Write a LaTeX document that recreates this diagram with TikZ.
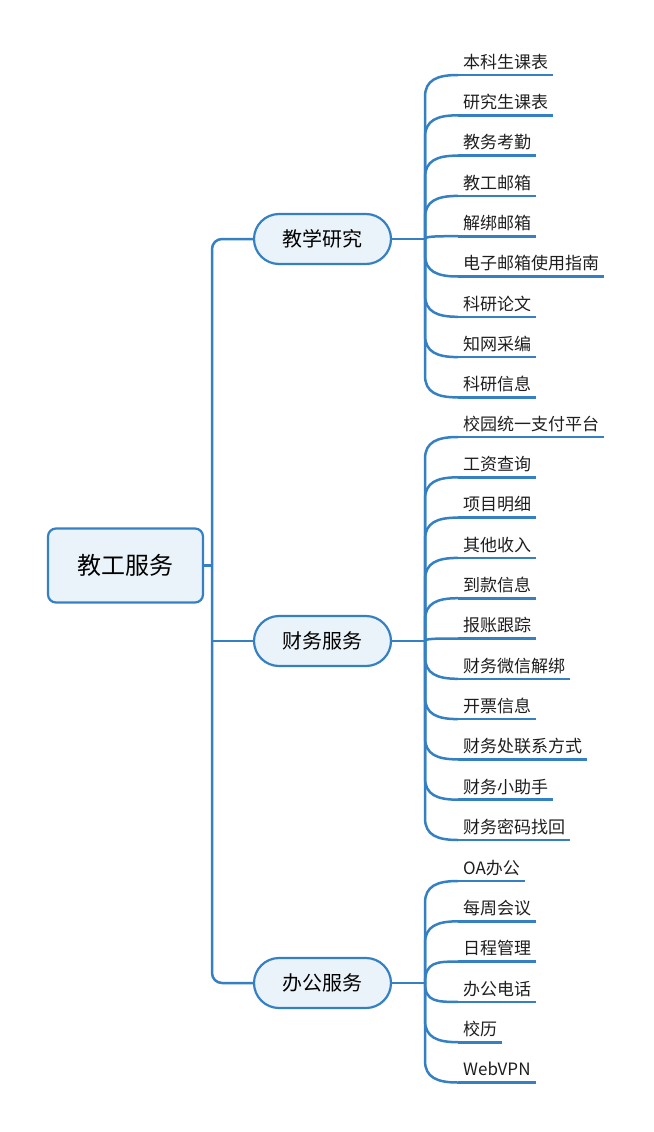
\documentclass[tikz,border=0pt]{standalone}
\usepackage{fontspec}
\setmainfont{Noto Sans CJK SC}
\definecolor{lineblue}{HTML}{3580C2}
\definecolor{fillblue}{HTML}{EBF3FA}
\definecolor{leaftext}{HTML}{1E1E1E}
\tikzset{
  conn/.style={draw=lineblue, line width=2.5pt},
  ul/.style={draw=lineblue, line width=2.6pt},
  rootbox/.style={draw=lineblue, fill=fillblue, line width=2.2pt, rounded corners=8pt,
    minimum width=155pt, minimum height=74pt, inner sep=0pt, font=\fontsize{24}{28}\selectfont},
  topicbox/.style={draw=lineblue, fill=fillblue, line width=2.2pt, rounded corners=25pt,
    minimum width=137pt, minimum height=50pt, inner sep=0pt, font=\fontsize{20}{24}\selectfont},
  leafbox/.style={anchor=south west, inner xsep=5pt, inner ysep=2.5pt, text height=13pt,
    text depth=4pt, font=\fontsize{17}{20}\selectfont, text=leaftext},
}
\newcommand\myleafconn[3]{%
  \pgfmathsetmacro\mydy{#2-#1}%
  \ifdim \mydy pt < -22pt
    \draw[conn] (425,#1) -- (425,#2+22) .. controls (425,#2+5) and (437,#2) .. (#3.south west);
  \else\ifdim \mydy pt > 22pt
    \draw[conn] (425,#1) -- (425,#2-22) .. controls (425,#2-5) and (437,#2) .. (#3.south west);
  \else
    \draw[conn] (425,#1) .. controls (425,#2) and (437,#2) .. (#3.south west);
  \fi\fi
}
\begin{document}
\begin{tikzpicture}[x=1pt,y=-1pt]
\useasboundingbox (0,0) rectangle (653,1132);

\node[rootbox] (root) at (125.5,565.5) {教工服务};
\node[topicbox] (t1) at (322.5,239) {教学研究};
\node[topicbox] (t2) at (322.5,641) {财务服务};
\node[topicbox] (t3) at (322.5,983) {办公服务};

\coordinate (trunk) at (212,565.5);
\draw[conn] (root.east) -- (trunk);
\draw[conn, rounded corners=10pt] (t1.west) -| (trunk) |- (t3.west);
\draw[conn] (212,641) -- (t2.west);

\coordinate (j1) at (425,239);
\coordinate (j2) at (425,641);
\coordinate (j3) at (425,983);
\draw[conn] (t1.east) -- (j1);
\draw[conn] (t2.east) -- (j2);
\draw[conn] (t3.east) -- (j3);

\foreach \t [count=\i from 0] in {本科生课表,研究生课表,教务考勤,教工邮箱,解绑邮箱,电子邮箱使用指南,科研论文,知网采编,科研信息}{
  \pgfmathsetmacro\yy{75+40.3*\i}
  \node[leafbox] (ga\i) at (458,\yy) {\t};
  \draw[ul] (ga\i.south west) -- (ga\i.south east);
  \myleafconn{239}{\yy}{ga\i}
}
\foreach \t [count=\i from 0] in {校园统一支付平台,工资查询,项目明细,其他收入,到款信息,报账跟踪,财务微信解绑,开票信息,财务处联系方式,财务小助手,财务密码找回}{
  \pgfmathsetmacro\yy{437+40.3*\i}
  \node[leafbox] (gb\i) at (458,\yy) {\t};
  \draw[ul] (gb\i.south west) -- (gb\i.south east);
  \myleafconn{641}{\yy}{gb\i}
}
\foreach \t [count=\i from 0] in {OA办公,每周会议,日程管理,办公电话,校历,WebVPN}{
  \pgfmathsetmacro\yy{881+40.3*\i}
  \node[leafbox] (gc\i) at (458,\yy) {\t};
  \draw[ul] (gc\i.south west) -- (gc\i.south east);
  \myleafconn{983}{\yy}{gc\i}
}
\end{tikzpicture}
\end{document}
